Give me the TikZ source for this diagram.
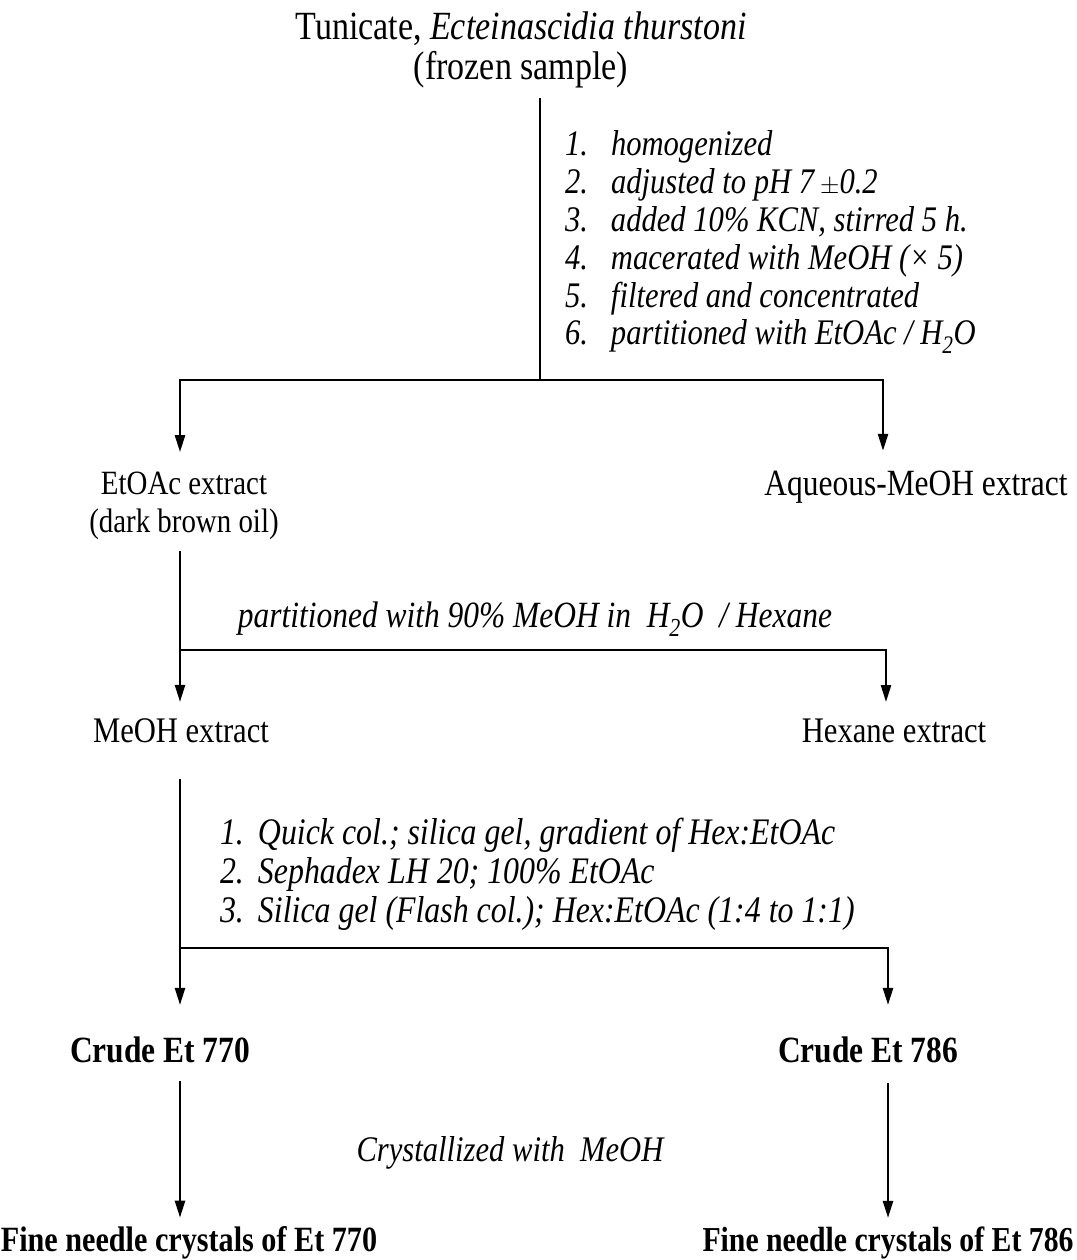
\documentclass[tikz,border=0pt]{standalone}
\usepackage{fontspec}
\setmainfont{Liberation Serif}[FakeStretch=0.85]
\usetikzlibrary{arrows.meta}
\newcommand{\fs}[1]{\fontsize{#1}{38}\selectfont}
\begin{document}
\begin{tikzpicture}[x=1pt,y=-1pt,
  txt/.style={font=\fs{36}, inner sep=0pt, outer sep=0pt},
  ln/.style={line width=2.4pt, line join=miter},
  tip/.style={-{Triangle[length=17pt,width=10pt]}},
  fork/.style={ln, {Triangle[length=17pt,width=10pt]}-{Triangle[length=17pt,width=10pt]}}
]
\useasboundingbox (0,0) rectangle (1076,1260);

% texts
\node[txt, align=center, font=\fontsize{40}{40}\selectfont] (src) at (521,50)
  {Tunicate, \textit{Ecteinascidia thurstoni}\\(frozen sample)};
\node[txt, align=left, anchor=west, font=\fontsize{36}{37.8}\selectfont\itshape] (st1) at (565,242)
  {\makebox[46pt][l]{1.}homogenized\\
   \makebox[46pt][l]{2.}adjusted to pH 7\,$\pm$0.2\\
   \makebox[46pt][l]{3.}added 10\% KCN, stirred 5 h.\\
   \makebox[46pt][l]{4.}macerated with MeOH (× 5)\\
   \makebox[46pt][l]{5.}filtered and concentrated\\
   \makebox[46pt][l]{6.}partitioned with EtOAc / H\textsubscript{2}O};
\node[txt, align=center, font=\fontsize{34}{38}\selectfont] (etoac) at (184,506) {EtOAc extract\\(dark brown oil)};
\node[txt, font=\fs{37}] (aq) at (916,487) {Aqueous-MeOH extract};
\node[txt, font=\fs{37}\itshape] (part) at (535,619)
  {partitioned with 90\% MeOH in\ \ H\textsubscript{2}O\ \ / Hexane};
\node[txt] (meoh) at (181,731) {MeOH extract};
\node[txt] (hex) at (894,731) {Hexane extract};
\node[txt, align=left, anchor=west, font=\fontsize{37.5}{39}\selectfont\itshape] (st2) at (220,874)
  {\makebox[38pt][l]{1.}Quick col.; silica gel, gradient of Hex:EtOAc\\
   \makebox[38pt][l]{2.}Sephadex LH 20; 100\% EtOAc\\
   \makebox[38pt][l]{3.}Silica gel (Flash col.); Hex:EtOAc (1:4 to 1:1)};
\node[txt, font=\fs{37}\bfseries] (c770) at (160,1050) {Crude Et 770};
\node[txt, font=\fs{37}\bfseries] (c786) at (868,1050) {Crude Et 786};
\node[txt, font=\fs{36}\itshape] (cryst) at (510,1153) {Crystallized with\ \ MeOH};
\node[txt, font=\fs{35.5}\bfseries] (f770) at (189,1243) {Fine needle crystals of Et 770};
\node[txt, font=\fs{35}\bfseries] (f786) at (888,1243) {Fine needle crystals of Et 786};

% junctions
\coordinate (j1) at (540,380);
\coordinate (j1l) at (180,380);
\coordinate (j1r) at (883,380);
\coordinate (j2l) at (180,650);
\coordinate (j2r) at (886,650);
\coordinate (j3l) at (180,948);
\coordinate (j3r) at (888,948);
\coordinate (k1) at (180,0);
\coordinate (k2) at (888,0);

% connectors
\draw[ln, shorten <=10pt] (j1 |- src.south) -- (j1);
\draw[fork, shorten <=20pt, shorten >=20pt] (j1l |- etoac.north) -- (j1l) -- (j1r) -- (j1r |- aq.north);
\draw[ln, shorten <=11pt] (j2l |- etoac.south) -- (j2l);
\draw[fork, shorten <=17pt, shorten >=17pt] (j2l |- meoh.north) -- (j2l) -- (j2r) -- (j2r |- hex.north);
\draw[ln, shorten <=36pt] (j3l |- meoh.south) -- (j3l);
\draw[fork, shorten <=32pt, shorten >=32pt] (j3l |- c770.north) -- (j3l) -- (j3r) -- (j3r |- c786.north);
\draw[ln, tip, shorten <=18pt, shorten >=9pt] (k1 |- c770.south) -- (k1 |- f770.north);
\draw[ln, tip, shorten <=20pt, shorten >=9pt] (k2 |- c786.south) -- (k2 |- f786.north);
\end{tikzpicture}
\end{document}
